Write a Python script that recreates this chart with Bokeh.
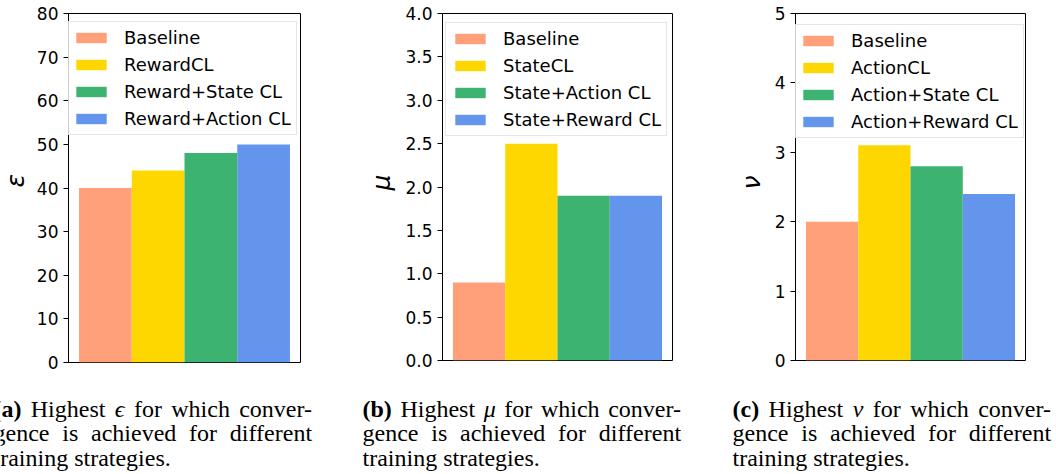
import math
from bokeh.plotting import figure
from bokeh.layouts import row, column
from bokeh.models import (ColumnDataSource, Range1d, FixedTicker, NumeralTickFormatter,
                          Legend, LegendItem)
from bokeh.core.properties import value
from bokeh.embed import file_html
from bokeh.resources import INLINE

# ---- data -------------------------------------------------------------
bar_colors = ["#FFA07A", "#FFD700", "#3CB371", "#6495ED"]

labels_eps = ["Baseline", "RewardCL", "Reward+State CL", "Reward+Action CL"]
values_eps = [40, 44, 48, 50]
ticks_eps = [0, 10, 20, 30, 40, 50, 60, 70, 80]

labels_mu = ["Baseline", "StateCL", "State+Action CL", "State+Reward CL"]
values_mu = [0.9, 2.5, 1.9, 1.9]
ticks_mu = [0.0, 0.5, 1.0, 1.5, 2.0, 2.5, 3.0, 3.5, 4.0]

labels_nu = ["Baseline", "ActionCL", "Action+State CL", "Action+Reward CL"]
values_nu = [2.0, 3.1, 2.8, 2.4]
ticks_nu = [0, 1, 2, 3, 4, 5]

axis_symbols = ["ε", "μ", "ν"]
caption_tags = ["(a)", "(b)", "(c)"]
caption_symbols = ["ϵ", "μ", "ν"]
caption_line1 = ["Highest", None, "for", "which", "conver-"]   # None -> symbol
caption_line2 = ["gence", "is", "achieved", "for", "different"]
caption_line3 = "training strategies."

TICK_FONT = "17px"
LEGEND_FONT = "18px"
AXIS_LABEL_FONT = "25px"
ROW_H = 390

# Times / Liberation Serif advance widths (1/1000 em) used to justify captions
SERIF_W = {' ': 250, 'a': 444, 'c': 444, 'd': 500, 'e': 444, 'f': 333, 'g': 500,
           'h': 500, 'i': 278, 'n': 500, 'o': 500, 'r': 333, 's': 389, 't': 278,
           'v': 500, 'w': 722, 'H': 722, '-': 333, '.': 250}
SERIF_BOLD_W = {'(': 333, ')': 333, 'a': 500, 'b': 556, 'c': 444}
SERIF_ITALIC_W = {'ϵ': 420, 'μ': 500, 'ν': 444}


def text_w(s, table, size):
    return sum(table.get(ch, 500) for ch in s) * size / 1000.0


def blank_canvas(width, height, x_end, y_start, y_end):
    f = figure(width=width, height=height, x_range=Range1d(0, x_end),
               y_range=Range1d(y_start, y_end),
               min_border=0, min_border_left=0, min_border_right=0,
               min_border_top=0, min_border_bottom=0,
               x_axis_location=None, y_axis_location=None, title=None,
               toolbar_location=None, output_backend="svg")
    f.grid.visible = False
    f.outline_line_color = None
    return f


def symbol_strip(symbol, x_mid, y_mid, width):
    # narrow strip carrying the rotated y-axis symbol of the next panel
    s = blank_canvas(width, ROW_H, width, ROW_H, 0)
    s.text(x=[x_mid], y=[y_mid], text=[symbol], angle=math.pi / 2,
           text_align="center", text_baseline="middle",
           text_font=value("DejaVu Sans"), text_font_style="italic",
           text_font_size=AXIS_LABEL_FONT, text_color="black")
    return s


def make_panel(labels, values, ticks, fmt, frame_w, frame_h,
               b_left, b_right, b_top, legend_xy):
    src = ColumnDataSource(dict(x=list(range(len(values))), top=values,
                                color=bar_colors, label=labels))
    p = figure(frame_width=frame_w, frame_height=frame_h,
               min_border_left=b_left, min_border_right=b_right,
               min_border_top=b_top, min_border_bottom=ROW_H - b_top - frame_h,
               x_range=Range1d(-0.7, len(values) - 0.3),
               y_range=Range1d(ticks[0], ticks[-1]),
               x_axis_location=None, toolbar_location=None, title=None,
               output_backend="svg")
    p.grid.visible = False
    p.outline_line_color = "black"
    p.outline_line_width = 1

    r = p.vbar(x="x", top="top", width=1.0, bottom=0, source=src,
               fill_color="color", line_color=None)

    ax = p.yaxis[0]
    ax.ticker = FixedTicker(ticks=ticks)
    ax.formatter = NumeralTickFormatter(format=fmt)
    ax.major_tick_out = 5
    ax.major_tick_in = 0
    ax.minor_tick_out = 0
    ax.minor_tick_in = 0
    ax.major_label_standoff = 5
    ax.major_label_text_font = "DejaVu Sans"
    ax.major_label_text_font_size = TICK_FONT
    ax.major_label_text_color = "black"
    ax.axis_line_color = "black"
    ax.major_tick_line_color = "black"

    items = [LegendItem(label=lab, renderers=[r], index=i) for i, lab in enumerate(labels)]
    legend = Legend(items=items, location=legend_xy,
                    glyph_width=38, glyph_height=13, label_standoff=14,
                    padding=5, spacing=6, margin=0,
                    label_text_font="DejaVu Sans", label_text_font_size=LEGEND_FONT,
                    label_text_color="black",
                    border_line_color="#cccccc", border_line_width=1,
                    background_fill_color="white", background_fill_alpha=0.8)
    p.add_layout(legend)
    return p


s_eps = symbol_strip(axis_symbols[0], 15, 188, 30)
p_eps = make_panel(labels_eps, values_eps, ticks_eps, "0",
                   232, 349, 38, 61, 11, (-2, 227))
s_mu = symbol_strip(axis_symbols[1], 20, 190, 40)
p_mu = make_panel(labels_mu, values_mu, ticks_mu, "0.0",
                  230, 347, 41, 58, 13, (3, 224))
s_nu = symbol_strip(axis_symbols[2], 21, 190, 40)
p_nu = make_panel(labels_nu, values_nu, ticks_nu, "0",
                  230, 347, 25, 31, 13, (-2, 222))

# ---- captions underneath the three panels -----------------------------
cap = blank_canvas(1056, 84, 1056, 474, 390)

col_x = [-7, 362, 732]
col_w = 319
baselines = [408, 432.5, 457]
serif = value("Liberation Serif")
FS = 24

pieces = {"bold": ([], [], []), "normal": ([], [], []), "italic": ([], [], [])}


def put(style, x, y, s):
    xs, ys, ts = pieces[style]
    xs.append(x)
    ys.append(y)
    ts.append(s)


tables = {"bold": SERIF_BOLD_W, "normal": SERIF_W, "italic": SERIF_ITALIC_W}
for cx, tag, sym in zip(col_x, caption_tags, caption_symbols):
    # first line: bold tag, words and the italic symbol, justified to the column
    line1 = [("bold", tag)] + [("italic", sym) if w is None else ("normal", w)
                              for w in caption_line1]
    widths = [text_w(s, tables[st], FS) for st, s in line1]
    gap = (col_w - sum(widths)) / (len(line1) - 1)
    x = cx
    for (st, s), w in zip(line1, widths):
        put(st, x, baselines[0], s)
        x += w + gap
    # second line: plain words, justified
    widths = [text_w(s, SERIF_W, FS) for s in caption_line2]
    gap = (col_w - sum(widths)) / (len(caption_line2) - 1)
    x = cx
    for s, w in zip(caption_line2, widths):
        put("normal", x, baselines[1], s)
        x += w + gap
    # last line: left aligned
    put("normal", cx, baselines[2], caption_line3)

for style, (xs, ys, ts) in pieces.items():
    cap.text(x=xs, y=ys, text=ts, text_font=serif, text_font_size=f"{FS}px",
             text_font_style=style, text_baseline="alphabetic", text_align="left",
             text_color="black")

layout = column(row(s_eps, p_eps, s_mu, p_mu, s_nu, p_nu), cap)
open("out.html", "w").write(file_html(layout, INLINE))
